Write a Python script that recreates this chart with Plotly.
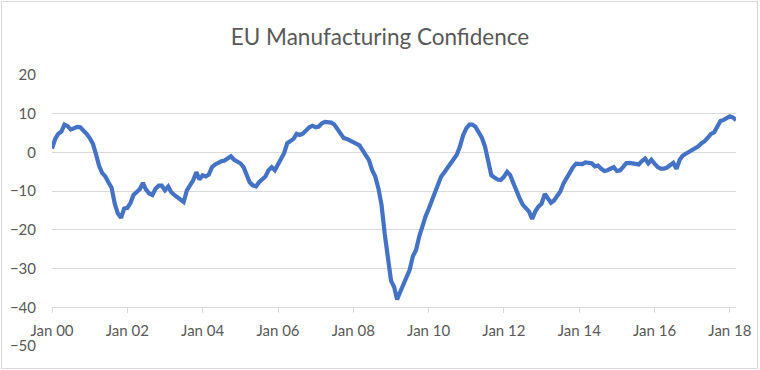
import pandas as pd
import plotly.graph_objects as go

title_text = "EU Manufacturing Confidence"

y2000 = [1.0, 3.5, 4.8, 5.4, 7.2, 6.8, 5.9, 6.2, 6.6, 6.5, 5.7, 4.8]
y2001 = [3.7, 2.2, -0.3, -3.4, -5.3, -6.2, -7.7, -9.1, -13.3, -15.8, -16.9, -14.5]
y2002 = [-14.3, -13.0, -11.0, -10.2, -9.5, -7.9, -9.6, -10.6, -11.0, -9.4, -8.6, -8.6]
y2003 = [-9.8, -8.8, -10.2, -11.0, -11.7, -12.2, -12.8, -9.8, -8.5, -7.2, -5.1, -7.0]
y2004 = [-5.9, -6.2, -5.7, -3.8, -3.1, -2.6, -2.3, -2.1, -1.6, -1.0, -1.9, -2.5]
y2005 = [-2.8, -3.8, -5.9, -7.7, -8.5, -8.8, -7.7, -7.0, -6.2, -4.6, -3.8, -4.6]
y2006 = [-2.9, -1.6, -0.2, 2.4, 3.0, 3.5, 4.8, 4.5, 4.9, 5.8, 6.5, 6.9]
y2007 = [6.5, 6.7, 7.5, 7.9, 7.8, 7.7, 7.2, 6.0, 4.9, 3.7, 3.5, 3.1]
y2008 = [2.6, 2.0, 1.8, 0.5, -0.9, -2.0, -4.5, -6.2, -9.3, -13.5, -21.0, -28.0]
y2009 = [-33.1, -34.8, -38.0, -36.0, -34.2, -32.5, -30.3, -26.8, -25.2, -21.8, -19.0, -16.6]
y2010 = [-14.6, -12.6, -10.2, -8.1, -6.3, -5.2, -4.0, -2.8, -1.8, -0.6, 1.6, 4.4]
y2011 = [6.2, 7.2, 7.2, 6.6, 5.2, 3.8, 1.6, -2.0, -5.9, -6.5, -7.0, -7.1]
y2012 = [-6.3, -5.0, -5.8, -7.9, -10.2, -11.8, -13.5, -14.3, -15.3, -17.2, -15.2, -14.0]
y2013 = [-13.2, -10.7, -12.0, -13.0, -12.4, -11.2, -10.1, -8.0, -6.5, -5.2, -3.8, -2.9]
y2014 = [-3.0, -3.0, -2.6, -2.7, -2.8, -3.6, -3.4, -4.2, -4.8, -4.6, -4.2, -3.8]
y2015 = [-4.8, -4.6, -3.8, -2.8, -2.7, -2.8, -2.8, -3.1, -2.2, -1.6, -2.8, -1.9]
y2016 = [-2.9, -3.8, -4.2, -4.2, -3.9, -3.1, -2.7, -4.2, -1.9, -0.8, -0.3, 0.1]
y2017 = [0.8, 1.4, 1.6, 2.4, 2.9, 3.8, 4.8, 5.2, 6.5, 8.1, 8.4, 9.0]
y2018 = [9.3, 9.0, 8.3]

values = (y2000 + y2001 + y2002 + y2003 + y2004 + y2005 + y2006 + y2007 + y2008
          + y2009 + y2010 + y2011 + y2012 + y2013 + y2014 + y2015 + y2016
          + y2017 + y2018)
dates = pd.date_range("2000-01-01", periods=len(values), freq="MS")

y_ticks = [20, 10, 0, -10, -20, -30, -40, -50]

W, H = 760, 370
L, R, T, B = 52, 24, 75, 24
pw, ph = W - L - R, H - T - B

GRID = "#D9D9D9"
TXT = "#595959"

fig = go.Figure()
fig.add_trace(go.Scatter(
    x=dates, y=values, mode="lines",
    line=dict(color="#4472C4", width=4.2, shape="linear"),
    hoverinfo="skip", showlegend=False,
))

fig.update_layout(
    width=W, height=H,
    margin=dict(l=L, r=R, t=T, b=B, autoexpand=False),
    paper_bgcolor="white", plot_bgcolor="white",
    font=dict(family="Lato, Open Sans, sans-serif", color=TXT),
    title=dict(text=title_text, x=0.5, xref="container", xanchor="center",
               y=1 - 37 / H, yref="container", yanchor="middle",
               font=dict(size=22.5, color=TXT, family="Lato, Open Sans, sans-serif")),
    xaxis=dict(
        type="date",
        range=["2000-01-01", "2018-03-01"],
        tick0="2000-01-01", dtick="M24", tickformat="Jan %y",
        showgrid=False, zeroline=False,
        showline=True, linecolor=GRID, linewidth=1,
        ticks="outside", ticklen=5, tickcolor=GRID, tickwidth=1,
        anchor="free", position=10 / 70,
        ticklabelstandoff=5,
        tickfont=dict(size=15, color=TXT),
    ),
    yaxis=dict(
        range=[-50, 20], tickvals=y_ticks,
        showgrid=True, gridcolor=GRID, gridwidth=1,
        zeroline=False, showline=False,
        ticklabelstandoff=15,
        tickfont=dict(size=15, color=TXT),
    ),
    shapes=[dict(
        type="rect", xref="paper", yref="paper",
        x0=(1.5 - L) / pw, x1=(757.5 - L) / pw,
        y0=(H - 368.5 - B) / ph, y1=(H - 1.5 - B) / ph,
        line=dict(color=GRID, width=1.2), fillcolor="rgba(0,0,0,0)", layer="below",
    )],
)

fig.write_html(
    "out.html",
    config={"displayModeBar": False},
    post_script="document.body.style.margin='0';document.body.style.overflow='hidden';",
)
